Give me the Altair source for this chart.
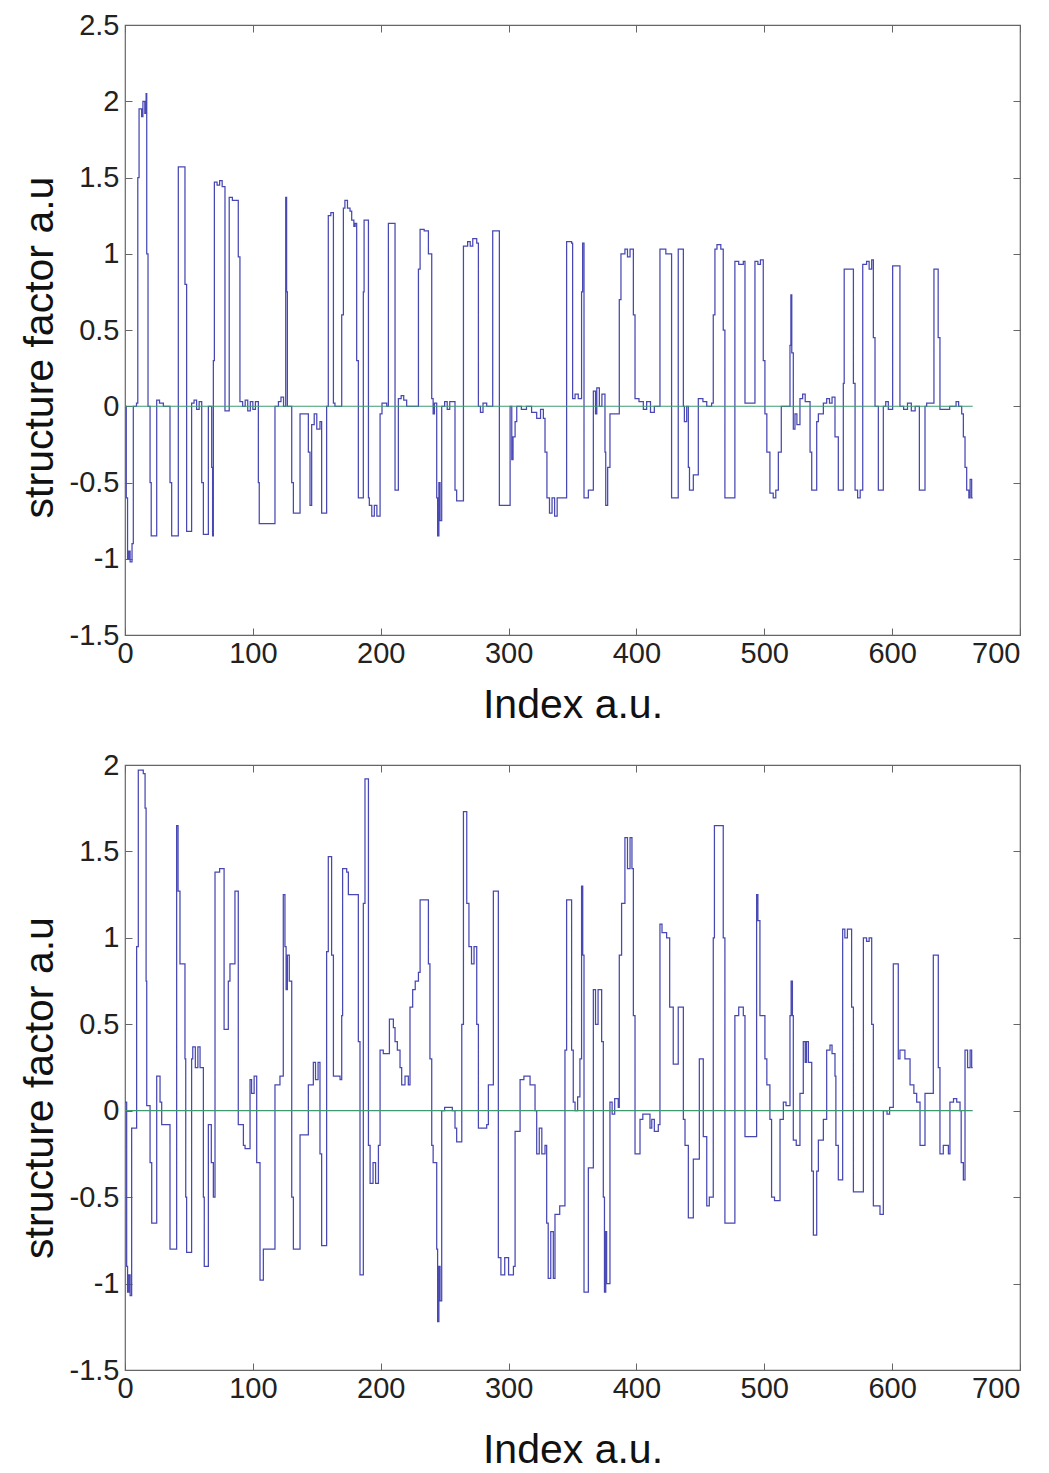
import altair as alt
import pandas as pd

# ---- data (segment start index, level) ----
top_idx = [0, 1, 2, 3, 4, 5.5, 6.5, 9, 10, 11, 13, 14, 15.5, 16.5, 17, 18, 19.6, 20.5, 24.8, 27, 30,
           35.2, 36.5, 41.7, 46.9, 48.2, 52.1, 54, 56, 58, 60, 61.3, 65.2, 67.8, 68.5, 69.1, 69.9, 72,
           74, 76, 78.2, 81.5, 84, 88.6, 89.9, 92, 94, 96, 98, 100, 102, 104.3, 105, 117.3, 120, 122,
           124, 125.7, 126.4, 127, 130.4, 131.7, 136.9, 143.4, 144.7, 146, 148, 150, 152.5, 153.8,
           157.7, 159, 161, 163, 164.2, 169.5, 170.8, 172, 174, 176, 177.3, 179, 180, 181.2, 182.5,
           186.4, 187, 190.4, 191.1, 193, 195, 197, 199.5, 201, 204.7, 206, 211.2, 213.8, 216, 218,
           220.3, 229.5, 230.8, 234, 237.3, 239.9, 241, 242, 243.8, 244.5, 245.5, 246.4, 247.7, 250,
           252, 254, 258.1, 259.4, 264.7, 268, 270, 272, 275.1, 276.4, 278, 280, 282.9, 287.6, 292.8,
           301.2, 302.5, 303.5, 305.1, 306.4, 310, 314, 318, 322, 325, 327.2, 328.5, 330, 332, 334,
           336, 338, 345.4, 349.3, 350.1, 352, 354.5, 357.1, 357.9, 359, 362.4, 366.3, 368, 369, 371,
           373, 375.4, 376, 377.5, 379.3, 386.6, 387.9, 391, 393, 395, 397.6, 398.9, 402, 405.4, 408,
           411, 414, 418.4, 423, 427.5, 432.7, 436.7, 437.5, 439.3, 440.6, 441.5, 444.5, 448.4, 452,
           455, 458.8, 460.1, 461.4, 463, 466, 467.9, 469.2, 477, 480, 483.6, 484.9, 492.7, 495, 497,
           499.2, 500.5, 502, 504.4, 507, 509, 511, 513.3, 520.1, 520.8, 521.5, 522.7, 524, 525.5,
           527.9, 530, 532, 535.8, 537.1, 541, 542.3, 546.2, 548.8, 551, 553, 555.3, 557.9, 561.8,
           562.5, 569.7, 571, 573, 575, 577, 580, 582, 584, 585.3, 586.6, 589.2, 593.1, 595, 597,
           600.4, 606.1, 609, 612, 615, 618, 621.3, 625.7, 627, 632.7, 636, 637.4, 645, 650, 652,
           654.4, 655.7, 657, 658.3, 660, 661, 662.2, 663]
top_val = [0.0, -0.6, -1.0, -0.95, -1.02, -0.9, 0.0, 0.02, 1.5, 1.95, 1.9, 2.0, 1.92, 2.05, 1.0, 0.0,
           -0.5, -0.85, 0.04, 0.02, 0.0, -0.5, -0.85, 1.57, 0.8, -0.82, 0.02, 0.04, -0.02, 0.03, -0.5,
           -0.84, 0.0, -0.4, -0.85, 0.3, 1.47, 1.45, 1.48, 1.44, -0.03, 1.37, 1.35, 0.98, 0.03, 0.0,
           0.04, -0.03, 0.03, -0.02, 0.03, -0.5, -0.77, 0.0, 0.03, 0.06, 0.0, 1.37, 0.75, 0.0, -0.5,
           -0.7, -0.05, -0.3, -0.65, -0.12, -0.05, -0.15, -0.1, -0.7, 0.0, 1.25, 1.27, 0.02, 0.0, 0.6,
           1.3, 1.35, 1.3, 1.28, 1.22, 1.18, 1.2, 0.3, -0.6, 0.75, 1.22, -0.6, -0.65, -0.72, -0.65,
           -0.72, -0.05, 0.02, 0.0, 1.2, -0.55, 0.05, 0.07, 0.04, 0.0, 0.9, 1.16, 1.15, 1.0, 0.05,
           -0.05, 0.02, -0.6, -0.85, -0.5, -0.75, 0.0, 0.03, -0.02, 0.03, -0.55, -0.62, 1.05, 1.08,
           1.05, 1.1, 1.07, 0.0, -0.04, 0.02, 0.0, 1.15, -0.65, 0.0, -0.35, -0.2, -0.1, 0.0, -0.02,
           0.0, -0.04, -0.08, -0.02, -0.08, -0.3, -0.6, -0.7, -0.6, -0.72, -0.6, 1.08, 1.07, 0.05,
           0.08, 0.05, 0.75, 1.07, -0.6, -0.55, 0.1, -0.05, 0.12, 0.0, 0.08, -0.3, -0.65, -0.4, -0.05,
           0.7, 1.0, 1.03, 0.98, 1.03, 0.6, 0.05, 0.03, -0.02, 0.03, -0.04, 0.0, 1.03, 1.0, -0.6,
           1.03, 0.0, -0.1, 0.0, -0.4, -0.55, -0.45, 0.05, 0.03, 0.0, 0.02, 0.6, 1.03, 1.06, 1.03,
           0.5, -0.6, 0.95, 0.93, 0.95, 0.02, 0.95, 0.93, 0.96, 0.3, -0.05, -0.3, -0.57, -0.6, -0.55,
           -0.3, 0.0, 0.4, 0.73, 0.35, -0.15, -0.05, -0.12, 0.05, 0.08, 0.03, -0.3, -0.55, -0.1,
           -0.05, 0.02, 0.05, 0.02, 0.06, -0.2, -0.55, 0.15, 0.9, 0.15, -0.55, -0.6, -0.55, 0.93,
           0.95, 0.9, 0.96, 0.45, 0.0, -0.55, 0.0, 0.03, -0.02, 0.92, 0.0, -0.02, 0.02, -0.03, 0.0,
           -0.55, 0.0, 0.02, 0.9, 0.45, -0.02, 0.0, 0.03, 0.0, -0.05, -0.2, -0.4, -0.55, -0.6, -0.48,
           -0.6, -0.6]

bot_idx = [0, 1.3, 2, 3, 4, 5.2, 9.1, 10.4, 14.3, 15.7, 16.5, 17, 19.6, 20.9, 24.8, 27.4, 28.7, 35.2,
           40.4, 41.5, 43, 46.9, 47.5, 48.2, 52.1, 53, 55, 57, 58.7, 61.3, 62, 65.2, 67.5, 69.1, 70.4,
           74, 77.5, 80.8, 82.1, 86, 88.6, 92.6, 93.9, 97.8, 99, 101, 103, 105.6, 108.2, 117.3, 121.2,
           123.8, 125.1, 126, 127, 128.5, 130.4, 131.7, 136.9, 143.4, 147.3, 149, 151, 152.5, 153.8,
           157.7, 159, 161.6, 163, 168.2, 169.5, 170.2, 173.4, 174.7, 182.5, 183.8, 186.4, 187.7,
           190.4, 191.7, 194, 196, 198.2, 199.5, 202, 206.8, 209.9, 211.2, 213, 215.1, 216.4, 219,
           221.6, 222.9, 225, 227, 229.5, 230.8, 237.3, 238.5, 239.9, 241, 243.8, 244.5, 245.5, 246.4,
           247.7, 250, 256, 258.1, 259.4, 263.4, 264.7, 267.3, 269, 271, 273, 275.1, 276.4, 282.9,
           284.2, 288.1, 292, 294, 297, 300, 303.8, 305.1, 309, 312, 316.8, 320.7, 322, 324, 326,
           328.5, 329.8, 331, 333, 335, 336.3, 340, 344.1, 345.4, 349.3, 350.6, 352, 354, 355.8, 357.1,
           358, 359, 362.4, 366.3, 368, 370, 372.8, 374.1, 375, 376, 376.7, 379.3, 381, 383, 385.8,
           386.6, 388.4, 391, 393, 395, 396.5, 397.6, 398.9, 402.8, 405, 410.6, 412, 414, 417.1, 418.4,
           420, 423.6, 426, 428.8, 432.7, 436.7, 438, 440.6, 444.5, 449.2, 452.3, 455, 457, 460.1, 461,
           467.9, 469.2, 477, 480, 483.6, 484.9, 494, 495, 496.6, 500.5, 502, 504.4, 505.7, 508, 512.3,
           514.9, 517, 520.1, 521, 522, 522.7, 525, 527.9, 530.5, 532, 533, 534.5, 537.1, 538.4, 541,
           542.3, 546.2, 548.8, 551.4, 553, 555.3, 556, 557.9, 561.3, 563, 565, 568.3, 569.7, 577.5,
           580, 582, 584, 585.3, 590.5, 593.1, 596, 598, 600.9, 604.8, 606.1, 610, 614, 617, 619.2,
           621.8, 625.7, 632.2, 636.1, 637.4, 640, 644, 645.2, 648, 650.5, 653.1, 654, 655.7, 657, 659,
           661, 662.2, 663]
bot_val = [0.05, -0.9, -1.05, -0.95, -1.07, -0.1, 0.95, 1.97, 1.95, 1.75, 0.75, 0.03, -0.3, -0.65, 0.2,
           0.05, -0.08, -0.8, 1.65, 1.27, 0.85, 0.3, -0.5, -0.82, 0.3, 0.37, 0.25, 0.37, 0.25, -0.5,
           -0.9, -0.08, -0.3, -0.5, 1.38, 1.4, 0.47, 0.75, 0.85, 1.27, -0.08, -0.2, -0.22, 0.18, 0.1,
           0.2, -0.3, -0.98, -0.8, 0.15, 0.2, 1.25, 0.95, 0.7, 0.9, 0.75, -0.5, -0.8, -0.14, 0.15,
           0.28, 0.18, 0.28, -0.25, -0.78, 0.92, 1.47, 0.9, 0.2, 0.18, 0.55, 1.4, 1.38, 1.25, 0.4,
           -0.95, 1.2, 1.92, -0.2, -0.42, -0.3, -0.42, -0.2, 0.35, 0.33, 0.53, 0.48, 0.4, 0.35, 0.25,
           0.15, 0.2, 0.15, 0.6, 0.7, 0.75, 0.8, 1.22, 0.85, 0.3, -0.2, -0.3, -0.8, -1.22, -0.9, -1.1,
           0.0, 0.02, 0.0, -0.1, -0.18, 0.5, 1.73, 1.2, 0.95, 0.85, 0.95, 0.5, -0.1, -0.08, 0.15, 1.27,
           -0.85, -0.95, -0.85, -0.95, -0.9, -0.12, 0.18, 0.2, 0.15, 0.0, -0.25, -0.1, -0.25, -0.2,
           -0.65, -0.97, -0.7, -0.97, -0.6, -0.55, 0.35, 1.22, 0.35, 0.05, 0.0, 0.08, 0.3, 1.3, 0.9,
           -1.05, -0.33, 0.7, 0.5, 0.7, 0.4, -0.5, -1.05, -0.7, -1.0, 0.05, -0.02, 0.07, 0.02, 0.9,
           1.2, 1.58, 1.4, 1.58, 1.4, 0.55, -0.25, -0.05, -0.02, -0.1, -0.05, -0.12, -0.08, 1.08, 1.03,
           1.0, 0.6, 0.27, 0.6, -0.05, -0.2, -0.62, -0.28, 0.3, -0.15, -0.55, -0.5, 1.0, 1.65, 1.0,
           -0.65, 0.55, 0.6, 0.55, -0.15, 1.25, 1.1, 0.55, 0.3, 0.15, -0.05, -0.5, -0.52, -0.05, 0.05,
           0.03, 0.55, 0.75, 0.55, -0.17, -0.2, 0.1, 0.4, 0.28, 0.4, 0.28, -0.35, -0.72, -0.35, -0.17,
           -0.05, 0.35, 0.38, 0.33, 0.2, -0.2, -0.4, 1.05, 1.0, 1.05, 0.6, -0.47, 1.0, 0.98, 1.0, 0.5,
           -0.55, -0.6, 0.0, -0.02, 0.02, 0.85, 0.3, 0.35, 0.3, 0.15, 0.1, 0.05, -0.2, 0.1, 0.9, 0.25,
           -0.25, -0.2, -0.25, 0.05, 0.07, 0.05, 0.0, -0.3, -0.4, 0.35, 0.25, 0.35, 0.25, 0.25]

zero_idx = [0, 663]
zero_val = [0, 0]

x_ticks = [0, 100, 200, 300, 400, 500, 600, 700]
top_yticks = [-1.5, -1, -0.5, 0, 0.5, 1, 1.5, 2, 2.5]
bot_yticks = [-1.5, -1, -0.5, 0, 0.5, 1, 1.5, 2]

BLUE = "#4848b4"
GREEN = "#3f9a72"
FONT = "Liberation Sans"
LBL = "''+datum.value"
X_ALIGN = {"condition": {"test": "datum.value == 700", "value": "right"}, "value": "center"}


def panel(idx, val, ydom, yticks, h, title_pad, title_dy):
    df = pd.DataFrame({"idx": idx, "val": val})
    zdf = pd.DataFrame({"idx": zero_idx, "val": zero_val})
    xs = alt.Scale(domain=[0, 700], nice=False, zero=False)
    ys = alt.Scale(domain=ydom, nice=False, zero=False)
    line = alt.Chart(df).mark_line(interpolate="step-after", color=BLUE, strokeWidth=1.25).encode(
        x=alt.X("idx:Q", scale=xs, axis=alt.Axis(
            orient="bottom", values=x_ticks, title="Index a.u.", offset=-7, tickSize=7,
            domain=False, grid=False, labelPadding=4, titlePadding=title_pad,
            labelFlush=False, labelOverlap=False, labelExpr=LBL, labelAlign=X_ALIGN)),
        y=alt.Y("val:Q", scale=ys, axis=alt.Axis(
            orient="left", values=yticks, title="structure factor a.u", offset=-7, tickSize=7,
            domain=False, grid=False, labelPadding=6, titlePadding=8,
            labelFlush=False, labelOverlap=False, labelExpr=LBL, titleY=h / 2 + title_dy)),
    )
    zero = alt.Chart(zdf).mark_line(color=GREEN, strokeWidth=1.2).encode(
        x=alt.X("idx:Q", scale=xs, axis=alt.Axis(
            orient="top", values=x_ticks, title="", labels=False, offset=-7, tickSize=7,
            domain=False, grid=False)),
        y=alt.Y("val:Q", scale=ys, axis=alt.Axis(
            orient="right", values=yticks, title="", labels=False, offset=-7, tickSize=7,
            domain=False, grid=False)),
    )
    return alt.layer(line, zero).resolve_axis(x="independent", y="independent").properties(
        width=895, height=h)


top = panel(top_idx, top_val, [-1.5, 2.5], top_yticks, 610, 17, 17)
bot = panel(bot_idx, bot_val, [-1.5, 2.0], bot_yticks, 605, 27, 20)

chart = alt.vconcat(top, bot, spacing=24).properties(
    padding={"left": 10, "top": 2, "right": 5, "bottom": 0}
).configure_view(stroke="#666666", strokeWidth=1.2).configure_axis(
    labelFont=FONT, titleFont=FONT, labelFontSize=29, titleFontSize=41,
    titleFontWeight="normal", labelColor="#222222", titleColor="#111111",
    tickColor="#666666", tickWidth=1)

chart.save("out.html", embed_options={"renderer": "svg", "actions": False})
